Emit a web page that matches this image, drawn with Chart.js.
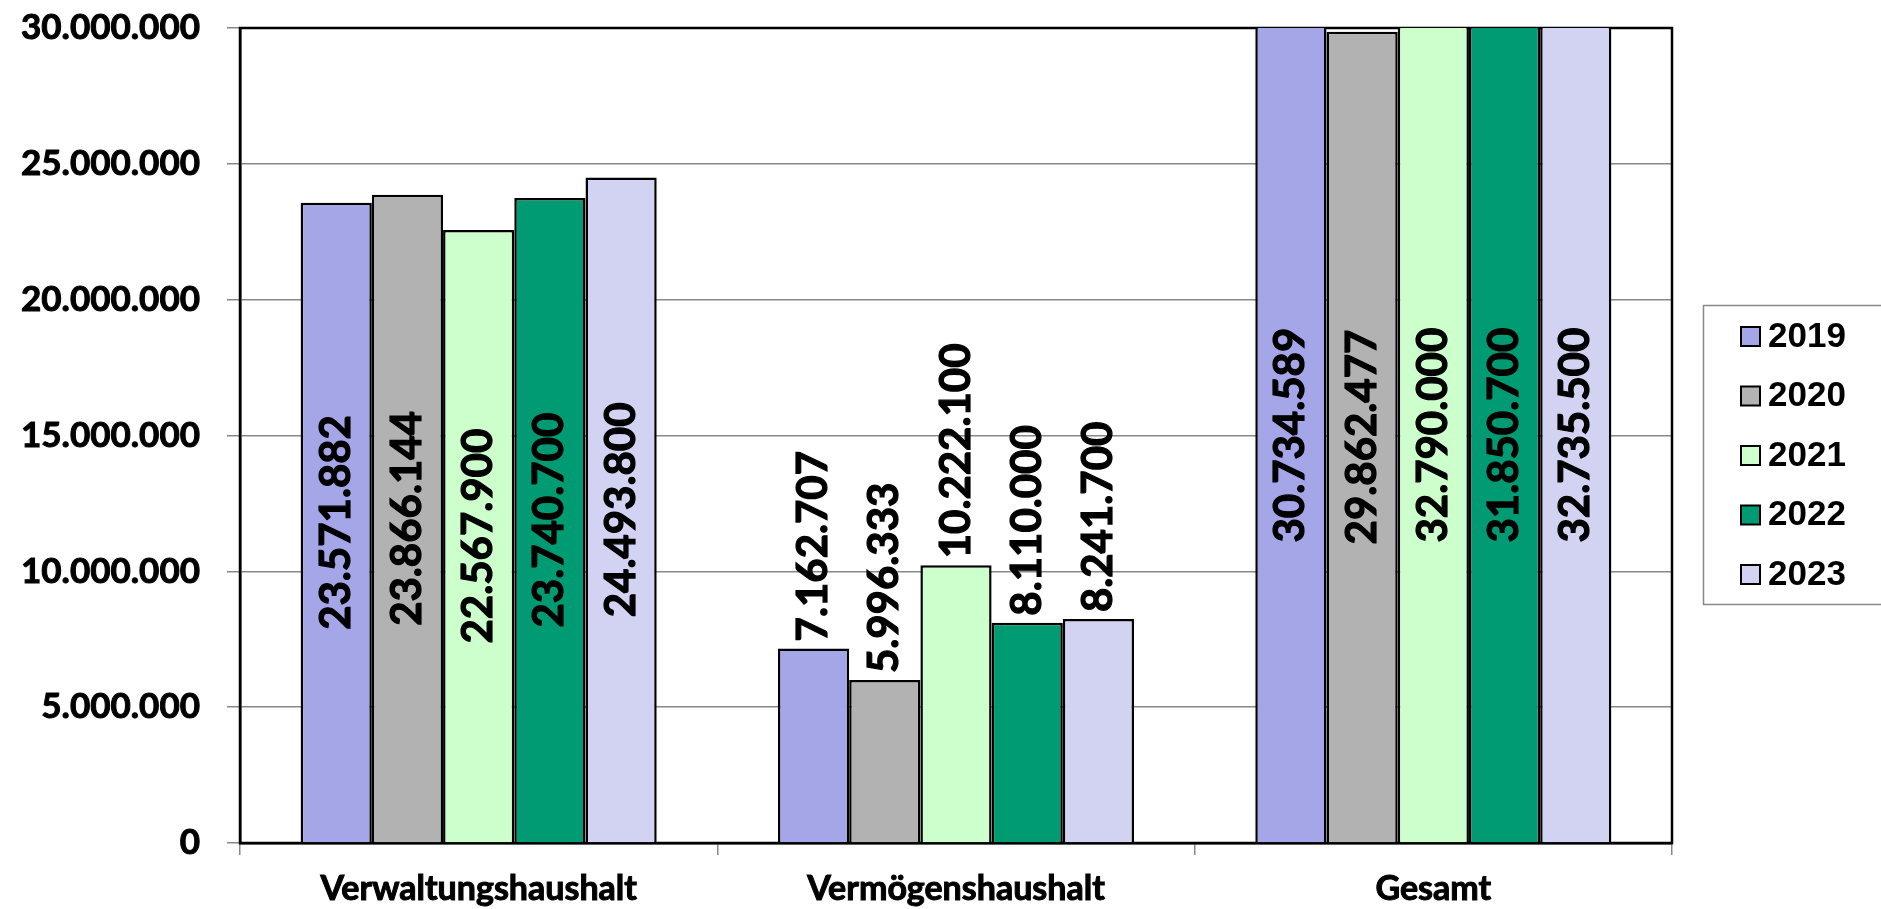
<!DOCTYPE html>
<html>
<head>
<meta charset="utf-8">
<script src="https://cdn.jsdelivr.net/npm/chart.js@4/dist/chart.umd.min.js"></script>
<style>
  html, body { margin: 0; padding: 0; background: #fff; }
  #wrap { width: 1881px; height: 909px; }
</style>
</head>
<body>
<div id="wrap"><canvas id="chart"></canvas></div>
<script>
const categories = ['Verwaltungshaushalt', 'Vermögenshaushalt', 'Gesamt'];
const years = ['2019', '2020', '2021', '2022', '2023'];
const values2019 = [23571882, 7162707, 30734589];
const values2020 = [23866144, 5996333, 29862477];
const values2021 = [22567900, 10222100, 32790000];
const values2022 = [23740700, 8110000, 31850700];
const values2023 = [24493800, 8241700, 32735500];
const yTicks = [0, 5000000, 10000000, 15000000, 20000000, 25000000, 30000000];

const colors = ['#a5a6e7', '#b2b2b2', '#ccffcc', '#009a73', '#d2d2f2'];
const series = [values2019, values2020, values2021, values2022, values2023];

const fmt = v => String(Math.round(v)).replace(/\B(?=(\d{3})+(?!\d))/g, '.');

// Rahmen um die Zeichenfläche
const frame = {
    id: 'frame',
    beforeDatasetsDraw(chart) {
        const { ctx, chartArea: a } = chart;
        ctx.save();
        ctx.strokeStyle = '#000';
        ctx.lineWidth = 2.5;
        ctx.strokeRect(a.left, a.top, a.right - a.left, a.bottom - a.top);
        ctx.restore();
    }
};

// Werte senkrecht an den Balken
const barLabels = {
    id: 'barLabels',
    afterDatasetsDraw(chart) {
        const { ctx, chartArea: a } = chart;
        ctx.save();
        ctx.font = 'bold 42px Lato';
        ctx.fillStyle = '#000';
        ctx.strokeStyle = '#000';
        ctx.lineWidth = 1.2;
        ctx.textBaseline = 'middle';
        chart.data.datasets.forEach((ds, i) => {
            chart.getDatasetMeta(i).data.forEach((bar, j) => {
                const text = fmt(ds.data[j]);
                const w = ctx.measureText(text).width;
                const top = Math.max(bar.y, a.top);
                const h = bar.base - top;
                ctx.save();
                ctx.translate(bar.x, 0);
                ctx.rotate(-Math.PI / 2);
                let x;
                if (h > w + 120) {
                    ctx.textAlign = 'center';
                    x = -(top + bar.base) / 2;
                } else {
                    ctx.textAlign = 'left';
                    x = -(top - 7);
                }
                ctx.fillText(text, x, 0);
                ctx.strokeText(text, x, 0);
                ctx.restore();
            });
        });
        ctx.restore();
    }
};

// Legende mit Rahmen rechts
const sideLegend = {
    id: 'sideLegend',
    afterDraw(chart) {
        const { ctx } = chart;
        ctx.save();
        ctx.strokeStyle = '#888';
        ctx.lineWidth = 1.5;
        ctx.strokeRect(1703.5, 305.5, 190, 299);
        ctx.font = 'bold 35px "Liberation Sans", Arial';
        ctx.textBaseline = 'middle';
        chart.data.datasets.forEach((ds, i) => {
            const y = 336 + i * 59.5;
            ctx.fillStyle = ds.backgroundColor;
            ctx.fillRect(1741, y - 9, 19, 19);
            ctx.strokeStyle = '#000';
            ctx.lineWidth = 2;
            ctx.strokeRect(1741, y - 9, 19, 19);
            ctx.fillStyle = '#000';
            ctx.fillText(ds.label, 1768, y + 1);
        });
        ctx.restore();
    }
};

new Chart(document.getElementById('chart'), {
    type: 'bar',
    data: {
        labels: categories,
        datasets: years.map((y, i) => ({
            label: y,
            data: series[i],
            backgroundColor: colors[i],
            borderColor: '#000',
            borderWidth: 2.5,
            categoryPercentage: 0.746,
            barPercentage: 1
        }))
    },
    options: {
        responsive: true,
        maintainAspectRatio: false,
        animation: false,
        layout: { padding: { top: 28, right: 209, left: 0, bottom: 0 } },
        plugins: {
            legend: { display: false },
            tooltip: { enabled: false }
        },
        scales: {
            y: {
                min: 0,
                max: 30000000,
                afterFit: s => { s.width = 240; s.paddingTop = 0; s.paddingBottom = 0; },
                afterBuildTicks: s => { s.ticks = yTicks.map(v => ({ value: v })); },
                ticks: {
                    color: '#000',
                    font: { family: 'Lato', weight: 'bold', size: 35 },
                    textStrokeColor: '#000',
                    textStrokeWidth: 1,
                    padding: 27,
                    callback: v => fmt(v)
                },
                grid: { color: '#888', lineWidth: 1.5, tickLength: 13 },
                border: { color: '#000', width: 2.5 }
            },
            x: {
                afterFit: s => { s.height = 909 - 843; s.paddingLeft = 0; s.paddingRight = 0; },
                ticks: {
                    color: '#000',
                    font: { family: 'Lato', weight: 'bold', size: 34 },
                    textStrokeColor: '#000',
                    textStrokeWidth: 1,
                    padding: 14
                },
                grid: { drawOnChartArea: false, color: '#888', lineWidth: 1.5, tickLength: 12 },
                border: { color: '#000', width: 2.5 }
            }
        }
    },
    plugins: [frame, barLabels, sideLegend]
});
</script>
</body>
</html>
